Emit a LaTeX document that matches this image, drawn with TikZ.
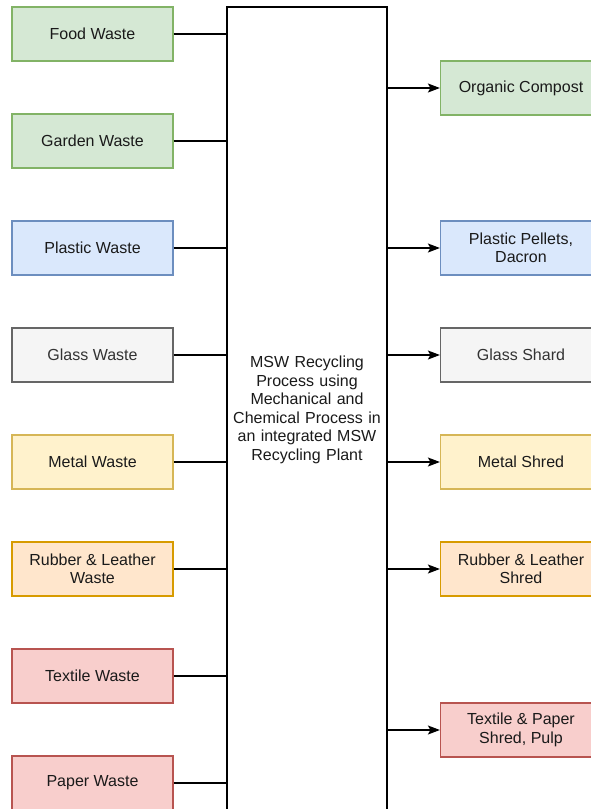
\documentclass[tikz,border=0pt]{standalone}
\usepackage{fontspec}
\setmainfont{Liberation Sans}
\usetikzlibrary{arrows.meta}
\definecolor{gfill}{HTML}{D5E8D4}\definecolor{gline}{HTML}{82B366}
\definecolor{bfill}{HTML}{DAE8FC}\definecolor{bline}{HTML}{6C8EBF}
\definecolor{sfill}{HTML}{F5F5F5}\definecolor{sline}{HTML}{666666}\definecolor{stext}{HTML}{333333}
\definecolor{yfill}{HTML}{FFF2CC}\definecolor{yline}{HTML}{D6B656}
\definecolor{ofill}{HTML}{FFE6CC}\definecolor{oline}{HTML}{D79B00}
\definecolor{rfill}{HTML}{F8CECC}\definecolor{rline}{HTML}{B85450}
\definecolor{txt}{HTML}{1A1A1A}
\begin{document}
\begin{tikzpicture}[x=1pt,y=-1pt,
  every node/.style={font=\fontsize{16}{18.5}\selectfont, text=txt, align=center},
  box/.style={rectangle, draw, line width=1.2pt, minimum width=161pt, minimum height=54pt, inner sep=2pt},
  green/.style={box, fill=gfill, draw=gline},
  blue/.style={box, fill=bfill, draw=bline},
  grey/.style={box, fill=sfill, draw=sline, text=stext},
  yellow/.style={box, fill=yfill, draw=yline},
  orange/.style={box, fill=ofill, draw=oline},
  red/.style={box, fill=rfill, draw=rline},
  link/.style={draw=black, line width=1.3pt},
  arr/.style={link, -{Stealth[length=12pt,width=9pt,inset=2.5pt]}}]
\useasboundingbox (0,0) rectangle (591,809);
\clip (0,0) rectangle (591,809);
\fill[white] (0,0) rectangle (591,809);
% central process box
\node[draw=black, line width=1.3pt, fill=white, minimum width=160pt, minimum height=806pt, text width=150pt, inner sep=0pt] (mid) at (307,410)
  {MSW Recycling\\Process using\\Mechanical and\\Chemical Process in\\an integrated MSW\\Recycling Plant};
% inputs
\node[green]  (food)    at (92.5,34)  {Food Waste};
\node[green]  (garden)  at (92.5,141) {Garden Waste};
\node[blue]   (plastic) at (92.5,248) {Plastic Waste};
\node[grey]   (glass)   at (92.5,355) {Glass Waste};
\node[yellow] (metal)   at (92.5,462) {Metal Waste};
\node[orange] (rubber)  at (92.5,569) {Rubber \& Leather\\Waste};
\node[red]    (textile) at (92.5,676) {Textile Waste};
\node[red]    (paper)   at (92.5,783) {Paper Waste};
% outputs
\node[green]  (compost) at (521,88)  {Organic Compost};
\node[blue]   (pellets) at (521,248) {Plastic Pellets,\\Dacron};
\node[grey]   (shard)   at (521,355) {Glass Shard};
\node[yellow] (mshred)  at (521,462) {Metal Shred};
\node[orange] (rshred)  at (521,569) {Rubber \& Leather\\Shred};
\node[red]    (pulp)    at (521,730) {Textile \& Paper\\Shred, Pulp};
% input links
\foreach \n in {food,garden,plastic,glass,metal,rubber,textile,paper}
  \draw[link] (\n.east) -- (\n.east -| mid.west);
% output arrows
\foreach \n in {compost,pellets,shard,mshred,rshred,pulp}
  \draw[arr] (\n.west -| mid.east) -- (\n.west);
\end{tikzpicture}
\end{document}
